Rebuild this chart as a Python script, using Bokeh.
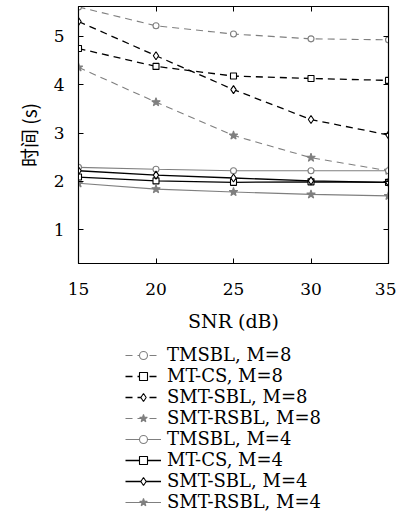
from bokeh.plotting import figure
from bokeh.layouts import column
from bokeh.models import Legend, LegendItem, LinearAxis, FixedTicker, Range1d
from bokeh.embed import file_html
from bokeh.resources import INLINE

snr = [15, 20, 25, 30, 35]

tmsbl_m8 = [5.61, 5.22, 5.05, 4.95, 4.93]
mtcs_m8 = [4.75, 4.38, 4.18, 4.13, 4.09]
smtsbl_m8 = [5.31, 4.60, 3.90, 3.28, 2.96]
smtrsbl_m8 = [4.36, 3.64, 2.95, 2.49, 2.22]
tmsbl_m4 = [2.29, 2.25, 2.22, 2.22, 2.22]
mtcs_m4 = [2.09, 2.01, 1.98, 1.99, 1.98]
smtsbl_m4 = [2.22, 2.13, 2.07, 2.01, 1.98]
smtrsbl_m4 = [1.96, 1.84, 1.78, 1.73, 1.70]

labels = ["TMSBL, M=8", "MT-CS, M=8", "SMT-SBL, M=8", "SMT-RSBL, M=8",
          "TMSBL, M=4", "MT-CS, M=4", "SMT-SBL, M=4", "SMT-RSBL, M=4"]
x_ticks = [15, 20, 25, 30, 35]
y_ticks = [1, 2, 3, 4, 5]

GRAY = "#7f7f7f"
BLACK = "#000000"
FONT = "DejaVu Serif"

p = figure(width=396, height=340, output_backend="svg", toolbar_location=None,
           x_range=Range1d(15, 35), y_range=Range1d(0.3, 5.62),
           min_border_left=78, min_border_right=8, min_border_top=6,
           min_border_bottom=77)
p.xgrid.visible = False
p.ygrid.visible = False
p.outline_line_color = "black"
p.outline_line_width = 1.2
p.background_fill_color = "white"

# legend-only figure below the chart (its glyphs lie outside its ranges)
p2 = figure(width=396, height=172, output_backend="svg", toolbar_location=None,
            x_axis_type=None, y_axis_type=None, min_border=0,
            x_range=Range1d(0, 1), y_range=Range1d(0, 1))
p2.outline_line_color = None
p2.xgrid.visible = False
p2.ygrid.visible = False

series = [
    (tmsbl_m8, GRAY, "dashed", "circle"),
    (mtcs_m8, BLACK, "dashed", "square"),
    (smtsbl_m8, BLACK, "dashed", "diamond"),
    (smtrsbl_m8, GRAY, "dashed", "star"),
    (tmsbl_m4, GRAY, "solid", "circle"),
    (mtcs_m4, BLACK, "solid", "square"),
    (smtsbl_m4, BLACK, "solid", "diamond"),
    (smtrsbl_m4, GRAY, "solid", "star"),
]

items = []
for (ys, col, dash, mk), lab in zip(series, labels):
    dash_s = "7 5" if dash == "dashed" else "solid"
    filled = mk == "star"
    sz = {"circle": 6, "square": 6, "diamond": 8, "star": 9}[mk]
    lw = 1.1 if col == GRAY else 1.3
    line_kw = dict(line_color=col, line_width=lw, line_dash=dash_s)
    mark_kw = dict(marker=mk, size=sz, line_color=col, line_width=1.1,
                   fill_color=col if filled else "white")
    p.line(snr, ys, **line_kw)
    p.scatter(snr, ys, **mark_kw)
    l1 = p2.line(snr, ys, **line_kw)
    l2 = p2.scatter(snr, ys, **mark_kw)
    items.append(LegendItem(label=lab, renderers=[l1, l2]))

for ax in (p.xaxis[0], p.yaxis[0]):
    ax.major_tick_in = 5
    ax.major_tick_out = 0
    ax.minor_tick_line_color = None
    ax.axis_line_color = "black"
    ax.major_label_text_font = FONT
    ax.major_label_text_font_size = "17px"
    ax.major_label_text_color = "black"
    ax.axis_label_text_font_style = "normal"
    ax.axis_label_text_font_size = "19px"
    ax.axis_label_text_color = "black"

p.xaxis[0].ticker = FixedTicker(ticks=x_ticks)
p.yaxis[0].ticker = FixedTicker(ticks=y_ticks)
p.xaxis[0].axis_label = "SNR (dB)"
p.xaxis[0].axis_label_text_font = FONT
p.xaxis[0].major_label_standoff = 19
p.xaxis[0].axis_label_standoff = 12
p.yaxis[0].axis_label = "时间 (s)"
p.yaxis[0].axis_label_text_font = "Noto Sans CJK SC"
p.yaxis[0].major_label_standoff = 14
p.yaxis[0].axis_label_standoff = 9

top = LinearAxis(ticker=FixedTicker(ticks=x_ticks), major_tick_in=5, major_tick_out=0,
                 minor_tick_line_color=None, major_label_standoff=0,
                 major_label_overrides={t: "" for t in x_ticks})
right = LinearAxis(ticker=FixedTicker(ticks=y_ticks), major_tick_in=5, major_tick_out=0,
                   minor_tick_line_color=None, major_label_standoff=0,
                   major_label_overrides={t: "" for t in y_ticks})
p.add_layout(top, "above")
p.add_layout(right, "right")

legend = Legend(items=items, location=(47, 0), orientation="vertical",
                label_text_font=FONT, label_text_font_size="18px",
                label_text_color="black",
                glyph_width=36, glyph_height=20, label_height=20, spacing=0,
                label_standoff=6, padding=0, margin=0,
                border_line_color=None, background_fill_alpha=0)
p2.add_layout(legend)

layout = column(p, p2, spacing=0)
open("out.html", "w").write(file_html(layout, INLINE))
